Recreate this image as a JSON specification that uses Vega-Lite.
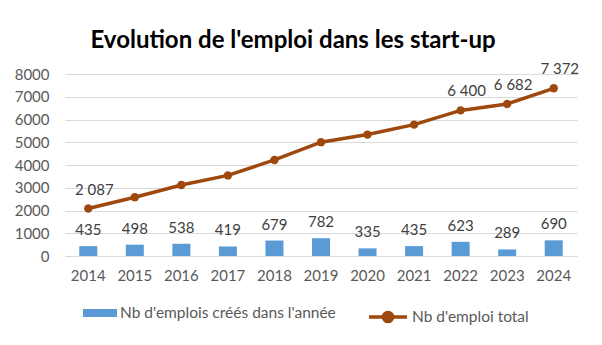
{
  "$schema": "https://vega.github.io/schema/vega-lite/v6.json",
  "width": 512,
  "height": 182,
  "autosize": {"type": "none"},
  "padding": {"left": 65, "top": 74, "right": 25, "bottom": 89},
  "background": "white",
  "config": {
    "locale": {"number": {"decimal": ",", "thousands": " ", "grouping": [3], "currency": ["", " €"]}},
    "view": {"stroke": null},
    "font": "Lato",
    "axisY": {
      "title": null,
      "tickCount": 8,
      "labelOverlap": false,
      "labelFontSize": 15,
      "labelColor": "#595959",
      "labelPadding": 16,
      "ticks": false,
      "domain": false,
      "gridColor": "#d9d9d9",
      "gridWidth": 1,
      "format": "d"
    }
  },
  "title": {
    "text": "Evolution de l'emploi dans les start-up",
    "fontSize": 24,
    "fontWeight": "bold",
    "color": "#000000",
    "font": "Lato",
    "anchor": "middle",
    "frame": "group",
    "baseline": "alphabetic",
    "dx": -28,
    "offset": -10
  },
  "data": {
    "values": [
      {"year": "2014", "created": 435, "total": 2087},
      {"year": "2015", "created": 498, "total": 2585},
      {"year": "2016", "created": 538, "total": 3123},
      {"year": "2017", "created": 419, "total": 3542},
      {"year": "2018", "created": 679, "total": 4221},
      {"year": "2019", "created": 782, "total": 5003},
      {"year": "2020", "created": 335, "total": 5338},
      {"year": "2021", "created": 435, "total": 5773},
      {"year": "2022", "created": 623, "total": 6400},
      {"year": "2023", "created": 289, "total": 6682},
      {"year": "2024", "created": 690, "total": 7372}
    ]
  },
  "encoding": {
    "x": {
      "field": "year",
      "type": "ordinal",
      "scale": {"paddingInner": 0.6, "paddingOuter": 0.3},
      "axis": {
        "title": null,
        "labelAngle": 0,
        "labelFontSize": 15,
        "labelColor": "#595959",
        "labelPadding": 12,
        "ticks": false,
        "domain": true,
        "domainColor": "#d9d9d9",
        "grid": false
      }
    }
  },
  "layer": [
    {
      "mark": {"type": "bar", "width": 18},
      "encoding": {
        "y": {
          "field": "created",
          "type": "quantitative",
          "scale": {"domain": [0, 8000], "nice": false}
        },
        "color": {
          "datum": "Nb d'emplois créés dans l'année",
          "scale": {"range": ["#5b9bd5"]},
          "legend": {
            "title": null,
            "orient": "none",
            "legendX": 18,
            "legendY": 222,
            "symbolType": "M-1,-0.235H1V0.235H-1Z",
            "symbolSize": 1156,
            "symbolStrokeWidth": 0,
            "labelFontSize": 15.5,
            "labelColor": "#595959",
            "labelOffset": 3,
            "labelLimit": 400
          }
        }
      }
    },
    {
      "mark": {"type": "text", "baseline": "middle", "dy": -16, "fontSize": 15, "color": "#404040"},
      "encoding": {
        "y": {"field": "created", "type": "quantitative"},
        "text": {"field": "created", "type": "quantitative", "format": "d"}
      }
    },
    {
      "mark": {"type": "line", "strokeWidth": 3.5},
      "encoding": {
        "y": {"field": "total", "type": "quantitative"},
        "stroke": {
          "datum": "Nb d'emploi total",
          "scale": {"range": ["#9e480e"]},
          "legend": {
            "title": null,
            "orient": "none",
            "legendX": 302,
            "legendY": 222,
            "symbolType": "M-1,0H1M-0.24,0A0.24,0.24 0 1,0 0.24,0A0.24,0.24 0 1,0 -0.24,0Z",
            "symbolSize": 1444,
            "symbolStrokeWidth": 3.5,
            "symbolFillColor": "#9e480e",
            "labelFontSize": 15.5,
            "labelColor": "#595959",
            "labelOffset": 3,
            "labelLimit": 400
          }
        }
      }
    },
    {
      "mark": {"type": "point", "filled": true, "size": 70, "color": "#9e480e", "opacity": 1},
      "encoding": {
        "y": {"field": "total", "type": "quantitative"}
      }
    },
    {
      "transform": [{"filter": "datum.year == '2014' || datum.year >= '2022'"}],
      "mark": {"type": "text", "baseline": "middle", "dx": 6, "dy": -19, "fontSize": 15, "color": "#404040"},
      "encoding": {
        "y": {"field": "total", "type": "quantitative"},
        "text": {"field": "total", "type": "quantitative", "format": ",d"}
      }
    }
  ]
}
